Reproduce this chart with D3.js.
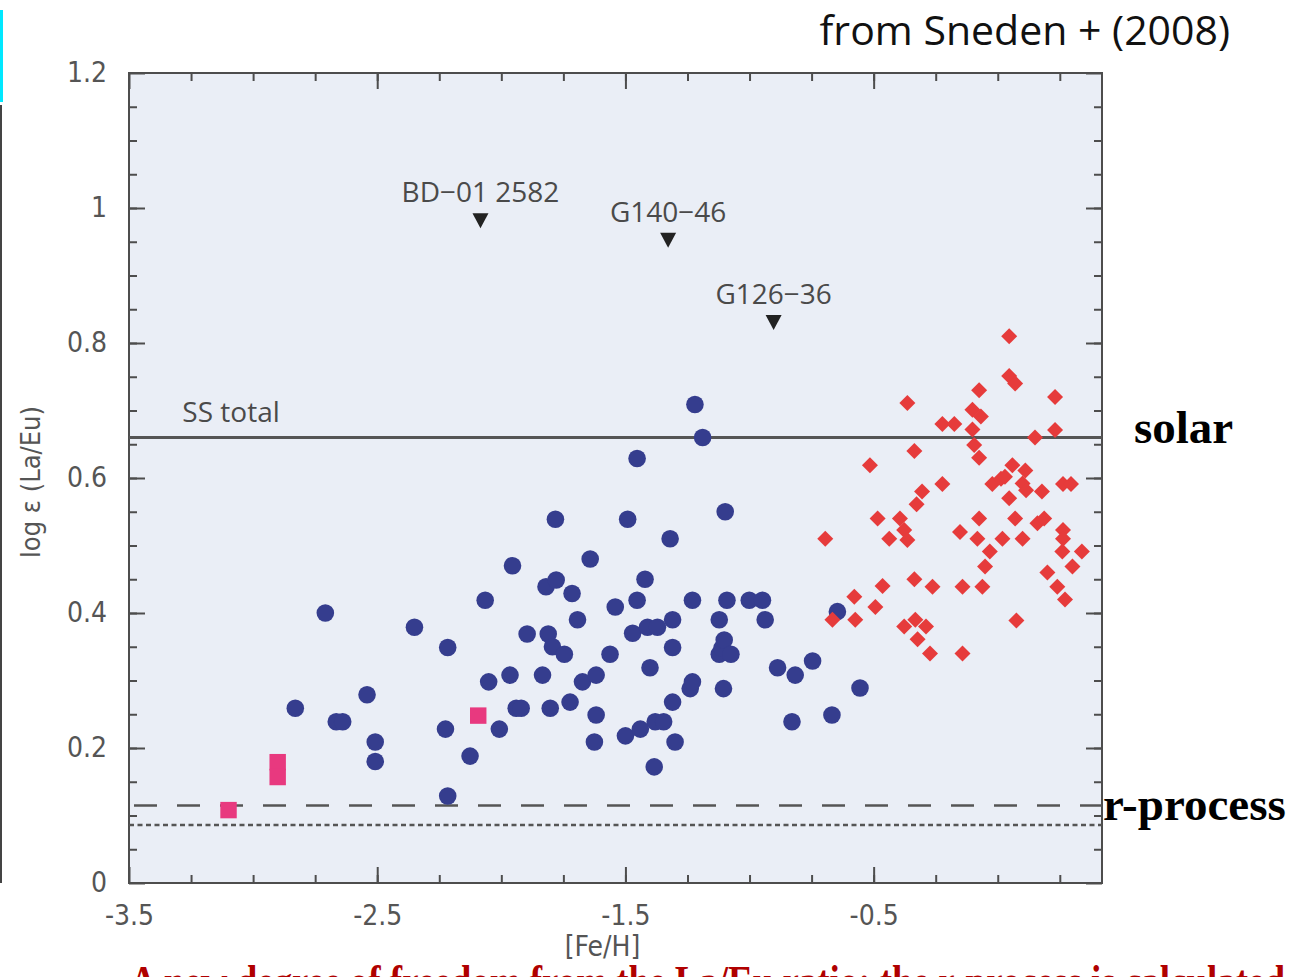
<!DOCTYPE html>
<html>
<head>
<meta charset="utf-8">
<script src="https://cdn.jsdelivr.net/npm/d3@7"></script>
<style>
  html, body { margin: 0; padding: 0; background: #fff; overflow: hidden; }
  svg { display: block; }
</style>
</head>
<body>
<svg id="chart" width="1291" height="977"></svg>
<script>
// ---- data -------------------------------------------------------------
// Halo giants (blue circles): [Fe/H], log eps(La/Eu)
const haloFeH = [
  -2.830, -2.709, -2.665, -2.639, -2.541, -2.508, -2.508, -2.350, -2.225, -2.216,
  -2.216, -2.126, -2.065, -2.051, -2.008, -1.965, -1.955, -1.940, -1.920, -1.896,
  -1.834, -1.820, -1.811, -1.803, -1.794, -1.782, -1.779, -1.746, -1.723, -1.715,
  -1.693, -1.673, -1.642, -1.625, -1.618, -1.618, -1.562, -1.541, -1.500, -1.491,
  -1.471, -1.453, -1.453, -1.440, -1.421, -1.411, -1.401, -1.384, -1.380, -1.371,
  -1.346, -1.320, -1.310, -1.310, -1.310, -1.300, -1.239, -1.230, -1.230, -1.220,
  -1.189, -1.122, -1.122, -1.111, -1.105, -1.102, -1.098, -1.091, -1.075, -1.001,
  -0.948, -0.937, -0.887, -0.829, -0.816, -0.746, -0.668, -0.646, -0.555
];
const haloLaEu = [
  0.259, 0.400, 0.239, 0.239, 0.279, 0.209, 0.180, 0.379, 0.228, 0.349,
  0.129, 0.188, 0.419, 0.298, 0.228, 0.308, 0.470, 0.259, 0.259, 0.369,
  0.308, 0.439, 0.369, 0.259, 0.350, 0.539, 0.449, 0.339, 0.268, 0.429,
  0.390, 0.298, 0.480, 0.209, 0.308, 0.249, 0.339, 0.409, 0.218, 0.539,
  0.370, 0.629, 0.419, 0.228, 0.450, 0.379, 0.319, 0.172, 0.239, 0.379,
  0.239, 0.510, 0.390, 0.349, 0.268, 0.209, 0.288, 0.419, 0.298, 0.709,
  0.660, 0.390, 0.339, 0.348, 0.288, 0.360, 0.550, 0.419, 0.339, 0.419,
  0.419, 0.390, 0.319, 0.239, 0.308, 0.329, 0.249, 0.402, 0.289
];

// Disk dwarfs (red diamonds)
const diskFeH = [
  -0.695, -0.666, -0.578, -0.574, -0.515, -0.493, -0.484, -0.464, -0.437, -0.394,
  -0.377, -0.377, -0.364, -0.364, -0.336, -0.336, -0.332, -0.327, -0.323, -0.305,
  -0.289, -0.273, -0.263, -0.223, -0.223, -0.175, -0.152, -0.142, -0.142, -0.102,
  -0.102, -0.095, -0.082, -0.075, -0.075, -0.075, -0.068, -0.062, -0.051, -0.032,
  -0.022,  0.013,  0.029,  0.019,  0.046,  0.046,  0.070,  0.046,  0.059,  0.075,
   0.070,  0.100,  0.114,  0.111,  0.100,  0.150,  0.160,  0.178,  0.187,  0.200,
   0.231,  0.231,  0.240,  0.260,  0.263,  0.263,  0.263,  0.271,  0.295,  0.301,
   0.339
];
const diskLaEu = [
  0.510, 0.390, 0.424, 0.390, 0.619, 0.409, 0.540, 0.440, 0.510, 0.540,
  0.523, 0.380, 0.711, 0.508, 0.640, 0.450, 0.390, 0.561, 0.361, 0.580,
  0.380, 0.340, 0.439, 0.680, 0.591, 0.680, 0.520, 0.439, 0.340, 0.701,
  0.672, 0.649, 0.510, 0.730, 0.630, 0.540, 0.691, 0.439, 0.469, 0.491,
  0.591, 0.599, 0.602, 0.510, 0.810, 0.751, 0.740, 0.570, 0.619, 0.389,
  0.540, 0.592, 0.582, 0.611, 0.510, 0.660, 0.533, 0.580, 0.540, 0.460,
  0.720, 0.671, 0.439, 0.491, 0.591, 0.523, 0.510, 0.420, 0.591, 0.469,
  0.491
];

// r-process-rich stars (pink squares)
const rRichFeH  = [-3.099, -2.901, -2.901, -2.093];
const rRichLaEu = [ 0.108,  0.179,  0.157,  0.248];

// Upper limits (downward triangles) with star names
const limitNames = ["BD\u221201 2582", "G140\u221246", "G126\u221236"];
const limitFeH   = [-2.084, -1.328, -0.903];
const limitLaEu  = [ 0.982,  0.953,  0.831];

// Reference abundance ratios
const ssTotal     = 0.66;   // solar-system total
const rOnlyDashed = 0.115;  // r-process only, one estimate
const rOnlyDotted = 0.086;  // r-process only, second estimate

// Axis ticks
const xMajorTicks  = [-3.5, -2.5, -1.5, -0.5];
const xTickLabels  = ["-3.5", "-2.5", "-1.5", "-0.5"];
const yMajorTicks  = [0, 0.2, 0.4, 0.6, 0.8, 1.0, 1.2];
const yTickLabels  = ["0", "0.2", "0.4", "0.6", "0.8", "1", "1.2"];

// ---- drawing ----------------------------------------------------------
const svg = d3.select("#chart");
const plot = { left: 129, right: 1102, top: 73, bottom: 883 };

const x = d3.scaleLinear().domain([-3.5, 0.42]).range([plot.left, plot.right]);
const y = d3.scaleLinear().domain([0, 1.2]).range([plot.bottom, plot.top]);

const axisColor = "#4d4d4d";
const labelColor = "#555";
const narrow = "'Liberation Sans Narrow', 'DejaVu Sans Condensed', sans-serif";

// slide decorations at the left edge
svg.append("rect").attr("x", 0).attr("y", 10).attr("width", 3).attr("height", 92).attr("fill", "#00e8ff");
svg.append("rect").attr("x", 0).attr("y", 105).attr("width", 2).attr("height", 778).attr("fill", "#444");

// plot background
svg.append("rect")
  .attr("x", plot.left).attr("y", plot.top)
  .attr("width", plot.right - plot.left).attr("height", plot.bottom - plot.top)
  .attr("fill", "#eaeef6");

const xMinor = d3.range(-3.25, 0.42, 0.25);
const yMinor = d3.range(0.05, 1.2, 0.05);

function styleAxis(g) {
  g.select(".domain").remove();
  g.selectAll(".tick line").attr("stroke", axisColor).attr("stroke-width", 2);
}

// bottom
svg.append("g").attr("transform", `translate(0,${plot.bottom})`)
  .call(d3.axisBottom(x).tickValues(xMinor).tickSize(-8).tickFormat(""))
  .call(styleAxis);
svg.append("g").attr("transform", `translate(0,${plot.bottom})`)
  .call(d3.axisBottom(x).tickValues(xMajorTicks).tickSize(-16).tickPadding(22)
        .tickFormat((d, i) => xTickLabels[i]))
  .call(styleAxis)
  .call(g => g.selectAll("text")
    .attr("font-family", narrow).attr("font-size", 28).attr("fill", labelColor));
// top
svg.append("g").attr("transform", `translate(0,${plot.top})`)
  .call(d3.axisTop(x).tickValues(xMinor).tickSize(-8).tickFormat(""))
  .call(styleAxis);
svg.append("g").attr("transform", `translate(0,${plot.top})`)
  .call(d3.axisTop(x).tickValues(xMajorTicks).tickSize(-16).tickFormat(""))
  .call(styleAxis);
// left
svg.append("g").attr("transform", `translate(${plot.left},0)`)
  .call(d3.axisLeft(y).tickValues(yMinor).tickSize(-8).tickFormat(""))
  .call(styleAxis);
svg.append("g").attr("transform", `translate(${plot.left},0)`)
  .call(d3.axisLeft(y).tickValues(yMajorTicks).tickSize(-16).tickPadding(22)
        .tickFormat((d, i) => yTickLabels[i]))
  .call(styleAxis)
  .call(g => g.selectAll("text")
    .attr("font-family", narrow).attr("font-size", 28).attr("fill", labelColor));
// right
svg.append("g").attr("transform", `translate(${plot.right},0)`)
  .call(d3.axisRight(y).tickValues(yMinor).tickSize(-8).tickFormat(""))
  .call(styleAxis);
svg.append("g").attr("transform", `translate(${plot.right},0)`)
  .call(d3.axisRight(y).tickValues(yMajorTicks).tickSize(-16).tickFormat(""))
  .call(styleAxis);

// plot frame
svg.append("rect")
  .attr("x", plot.left).attr("y", plot.top)
  .attr("width", plot.right - plot.left).attr("height", plot.bottom - plot.top)
  .attr("fill", "none").attr("stroke", axisColor).attr("stroke-width", 2);

// reference lines
const refG = svg.append("g").attr("stroke", "#555").attr("fill", "none");
refG.append("line")
  .attr("x1", plot.left).attr("x2", plot.right)
  .attr("y1", y(ssTotal)).attr("y2", y(ssTotal))
  .attr("stroke-width", 3);
refG.append("line")
  .attr("x1", plot.left).attr("x2", plot.right)
  .attr("y1", y(rOnlyDashed)).attr("y2", y(rOnlyDashed))
  .attr("stroke-width", 2.5).attr("stroke-dasharray", "23 20")
  .attr("stroke-dashoffset", -5);
refG.append("line")
  .attr("x1", plot.left).attr("x2", plot.right)
  .attr("y1", y(rOnlyDotted)).attr("y2", y(rOnlyDotted))
  .attr("stroke-width", 2.5).attr("stroke-dasharray", "5 3.5");

svg.append("text")
  .attr("x", x(-3.285)).attr("y", y(ssTotal) - 16)
  .attr("font-family", "'Open Sans', sans-serif").attr("font-size", 28)
  .attr("fill", "#4a4a4a").text("SS total");

// halo stars
svg.append("g").selectAll("circle")
  .data(d3.zip(haloFeH, haloLaEu))
  .join("circle")
  .attr("cx", d => x(d[0])).attr("cy", d => y(d[1]))
  .attr("r", 8.8).attr("fill", "#353d8e");

// disk stars
const diamond = d3.symbol(d3.symbolSquare, 128);
svg.append("g").selectAll("path")
  .data(d3.zip(diskFeH, diskLaEu))
  .join("path")
  .attr("d", diamond)
  .attr("transform", d => `translate(${x(d[0])},${y(d[1])}) rotate(45)`)
  .attr("fill", "#e63b3b");

// r-rich stars
const square = d3.symbol(d3.symbolSquare, 270);
svg.append("g").selectAll("path")
  .data(d3.zip(rRichFeH, rRichLaEu))
  .join("path")
  .attr("d", square)
  .attr("transform", d => `translate(${x(d[0])},${y(d[1])})`)
  .attr("fill", "#e8397f");

// upper limits
const tri = "M-8,-7L8,-7L0,8Z";
const limG = svg.append("g").selectAll("g")
  .data(d3.zip(limitNames, limitFeH, limitLaEu))
  .join("g")
  .attr("transform", d => `translate(${x(d[1])},${y(d[2])})`);
limG.append("path").attr("d", tri).attr("fill", "#222");
limG.append("text")
  .attr("y", -18).attr("text-anchor", "middle")
  .attr("font-family", "'Open Sans', sans-serif").attr("font-size", 28)
  .attr("fill", "#4a4a4a").text(d => d[0]);

// axis titles
svg.append("text")
  .attr("x", (plot.left + plot.right) / 2 - 13).attr("y", 956)
  .attr("text-anchor", "middle")
  .attr("font-family", narrow).attr("font-size", 28).attr("fill", labelColor)
  .text("[Fe/H]");
svg.append("text")
  .attr("transform", `translate(40,${482}) rotate(-90)`)
  .attr("text-anchor", "middle")
  .attr("font-family", narrow).attr("font-size", 27).attr("fill", labelColor)
  .text("log \u03b5 (La/Eu)");

// annotations around the plot
svg.append("text")
  .attr("x", 1230).attr("y", 45).attr("text-anchor", "end")
  .attr("font-family", "'Open Sans', sans-serif").attr("font-size", 41)
  .attr("fill", "#111").text("from Sneden + (2008)");

const serifBold = "'Liberation Serif', 'DejaVu Serif', serif";
svg.append("text")
  .attr("x", 1134).attr("y", 443)
  .attr("font-family", serifBold).attr("font-weight", "bold").attr("font-size", 47)
  .attr("fill", "#000").text("solar");
svg.append("text")
  .attr("x", 1103).attr("y", 820)
  .attr("font-family", serifBold).attr("font-weight", "bold").attr("font-size", 47)
  .attr("fill", "#000").text("r-process");

svg.append("text")
  .attr("x", 130).attr("y", 996)
  .attr("textLength", 1155).attr("lengthAdjust", "spacingAndGlyphs")
  .attr("font-family", serifBold).attr("font-weight", "bold").attr("font-size", 44)
  .attr("fill", "#b00000")
  .text("A new degree of freedom from the La/Eu ratio: the r-process is calculated");
</script>
</body>
</html>
